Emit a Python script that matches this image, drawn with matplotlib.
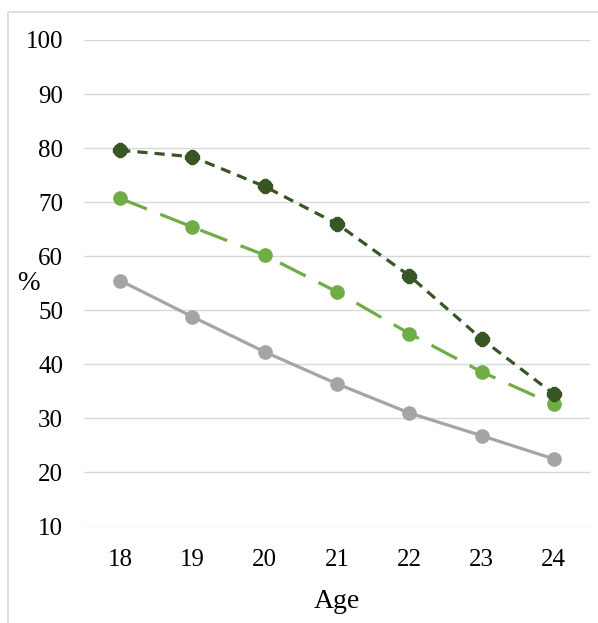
import matplotlib
matplotlib.use("Agg")
import matplotlib.pyplot as plt
from matplotlib.patches import Rectangle

# Data
ages = ["18", "19", "20", "21", "22", "23", "24"]
series_dark = [79.6, 78.4, 72.9, 66.0, 56.4, 44.7, 34.5]
series_light = [70.7, 65.4, 60.2, 53.4, 45.7, 38.6, 32.6]
series_gray = [55.5, 48.8, 42.3, 36.4, 31.0, 26.8, 22.5]
y_ticks = [10, 20, 30, 40, 50, 60, 70, 80, 90, 100]

plt.rcParams["font.family"] = ["Liberation Serif", "DejaVu Serif"]

fig = plt.figure(figsize=(5.98, 6.23), dpi=100)
fig.patch.set_facecolor("white")
# thin outer frame of the chart area
fig.patches.append(Rectangle((8 / 598, -0.1), 1.2, 1 - 12 / 623 + 0.1,
                             transform=fig.transFigure, fill=False,
                             edgecolor="#D9D9D9", linewidth=1.2))

ax = fig.add_axes([84 / 598, 1 - 526.5 / 623, 506 / 598, (526.5 - 40) / 623])
x = list(range(len(ages)))

ax.plot(x, series_gray, color="#A5A5A5", linewidth=2.3, marker="o",
        markersize=9.5, zorder=3)
ax.plot(x, series_light, color="#70AD47", linewidth=2.3,
        linestyle=(0, (9, 4.5)), marker="o", markersize=9.5, zorder=4)
ax.plot(x, series_dark, color="#375623", linewidth=2.3,
        linestyle=(0, (3.2, 2.2)), marker="o", markersize=9.5, zorder=5)
ax.plot(x, series_dark, color="#375623", linestyle="none", marker="P",
        markersize=10.5, zorder=5)

ax.set_xlim(-0.5, len(ages) - 0.5)
ax.set_ylim(10, 100)
ax.set_xticks(x)
ax.set_xticklabels(ages)
ax.set_yticks(y_ticks)

ax.grid(axis="y", color="#D9D9D9", linewidth=1.0)
ax.set_axisbelow(True)
for s in ax.spines.values():
    s.set_visible(False)
ax.tick_params(axis="both", length=0, labelsize=18, colors="black")
ax.tick_params(axis="y", pad=15)
ax.tick_params(axis="x", pad=16)

ax.set_xlabel("Age", fontsize=20, labelpad=13)
ax.set_ylabel("%", fontsize=19.5, rotation=0, ha="center", va="center")
ax.yaxis.set_label_coords(-56 / 506, 0.5)

fig.savefig("out.png", dpi=100)
